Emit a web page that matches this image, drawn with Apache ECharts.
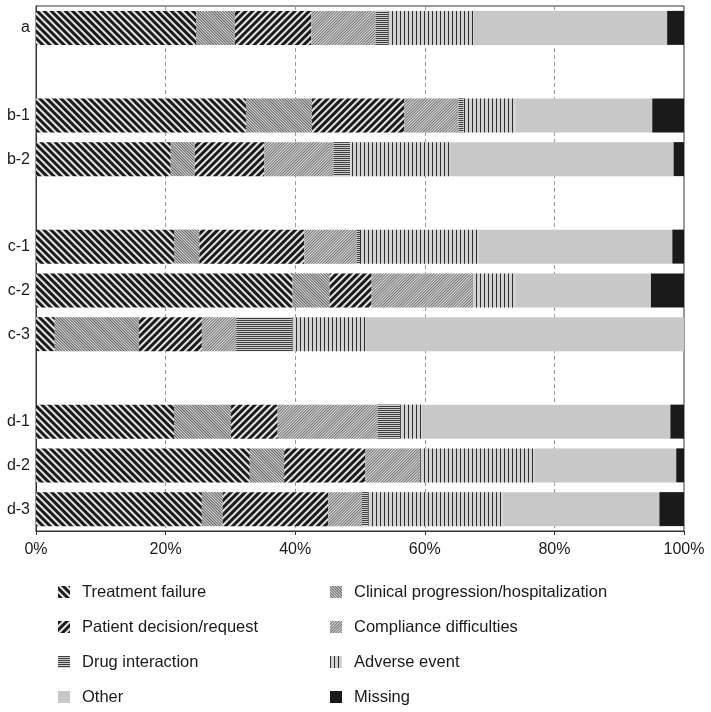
<!DOCTYPE html>
<html><head><meta charset="utf-8">
<script src="https://cdn.jsdelivr.net/npm/echarts@6/dist/echarts.min.js"></script>
<style>html,body{margin:0;padding:0;background:#fff}#c{width:711px;height:712px}</style>
</head><body><div id="c"></div>
<script>
var groups = [['a'], ['b-1', 'b-2'], ['c-1', 'c-2', 'c-3'], ['d-1', 'd-2', 'd-3']];
var xTicks = ['0%', '20%', '40%', '60%', '80%', '100%'];
var seriesNames = ['Treatment failure', 'Clinical progression/hospitalization', 'Patient decision/request',
  'Compliance difficulties', 'Drug interaction', 'Adverse event', 'Other', 'Missing'];
// values per row, order: a, b-1, b-2, c-1, c-2, c-3, d-1, d-2, d-3
var treatmentFailure = [24.7, 32.4, 20.8, 21.3, 39.6, 2.9, 21.3, 33.0, 25.6];
var clinicalProgression = [6.0, 10.2, 3.7, 3.9, 5.7, 13.0, 8.8, 5.3, 3.2];
var patientDecision = [11.8, 14.2, 10.7, 16.2, 6.5, 9.7, 7.2, 12.5, 16.3];
var compliance = [9.9, 8.4, 10.7, 8.1, 15.6, 5.3, 15.4, 8.5, 5.2];
var drugInteraction = [2.0, 0.8, 2.6, 0.5, 0, 8.7, 3.5, 0, 1.0];
var adverseEvent = [13.1, 8.0, 15.4, 18.3, 6.7, 11.2, 3.3, 17.7, 20.7];
var other = [29.9, 21.1, 34.5, 29.9, 20.8, 49.2, 38.4, 21.8, 24.2];
var missing = [2.6, 4.9, 1.6, 1.8, 5.1, 0, 2.1, 1.2, 3.8];

var valueSets = [treatmentFailure, clinicalProgression, patientDecision, compliance, drugInteraction, adverseEvent, other, missing];

// build category axis with blank spacer rows between groups
var cats = [], rowIndex = [];
var k = 0;
groups.forEach(function (g, gi) {
  if (gi > 0) { cats.push(' '.repeat(gi)); rowIndex.push(-1); }
  g.forEach(function (n) { cats.push(n); rowIndex.push(k++); });
});

var styles = [
  { color: '#e6e6e6', decal: { symbol: 'rect', color: '#1c1c1c', dashArrayX: [1, 0], dashArrayY: [3, 2], rotation: Math.PI / 4 } },
  { color: '#dcdcdc', decal: { symbol: 'rect', color: '#5e5e5e', dashArrayX: [1, 0], dashArrayY: [1, 1], rotation: Math.PI / 4 } },
  { color: '#e6e6e6', decal: { symbol: 'rect', color: '#1c1c1c', dashArrayX: [1, 0], dashArrayY: [3, 2], rotation: -Math.PI / 4 } },
  { color: '#dedede', decal: { symbol: 'rect', color: '#707070', dashArrayX: [1, 0], dashArrayY: [1, 1], rotation: -Math.PI / 4 } },
  { color: '#cfcfcf', decal: { symbol: 'rect', color: '#3c3c3c', dashArrayX: [1, 0], dashArrayY: [1, 1], rotation: 0 } },
  { color: '#d2d2d2', decal: { symbol: 'rect', color: '#2e2e2e', dashArrayX: [1, 3], dashArrayY: [1, 0], rotation: 0 } },
  { color: '#c8c8c8' },
  { color: '#1a1a1a' }
];

var series = seriesNames.map(function (name, i) {
  return {
    name: name, type: 'bar', stack: 'total', barWidth: 34,
    itemStyle: styles[i],
    emphasis: { disabled: true },
    data: rowIndex.map(function (r) { return r < 0 ? null : valueSets[i][r]; })
  };
});

var font = 'Liberation Sans, Arial, sans-serif';
var legendText = { fontFamily: font, fontSize: 16.5, lineHeight: 20, color: '#1a1a1a', padding: [0, 0, 0, 7] };
var chart = echarts.init(document.getElementById('c'), null, { renderer: 'canvas' });
chart.setOption({
  animation: false,
  grid: { left: 36, right: 27, top: 6, bottom: 181, show: true, borderColor: '#333', borderWidth: 1, backgroundColor: 'transparent' },
  xAxis: {
    type: 'value', min: 0, max: 100, interval: 20,
    axisLine: { show: true, lineStyle: { color: '#333' } },
    axisTick: { show: true, length: 4, lineStyle: { color: '#333' } },
    axisLabel: { formatter: function (v) { return xTicks[Math.round(v / 20)]; }, fontFamily: font, fontSize: 16, color: '#1a1a1a', margin: 11 },
    splitLine: { show: true, lineStyle: { color: '#9a9a9a', type: [4, 3] } }
  },
  yAxis: {
    type: 'category', inverse: true, data: cats,
    axisLine: { show: true, lineStyle: { color: '#333' } },
    axisTick: { show: false },
    axisLabel: { fontFamily: font, fontSize: 16, color: '#1a1a1a', margin: 6 }
  },
  legend: [
    { data: [seriesNames[0], seriesNames[2], seriesNames[4], seriesNames[6]], orient: 'vertical', left: 53, top: 577,
      icon: 'rect', itemWidth: 12, itemHeight: 12, itemGap: 15, textStyle: legendText, selectedMode: false },
    { data: [seriesNames[1], seriesNames[3], seriesNames[5], seriesNames[7]], orient: 'vertical', left: 325, top: 577,
      icon: 'rect', itemWidth: 12, itemHeight: 12, itemGap: 15, textStyle: legendText, selectedMode: false }
  ],
  series: series
});
</script></body></html>
